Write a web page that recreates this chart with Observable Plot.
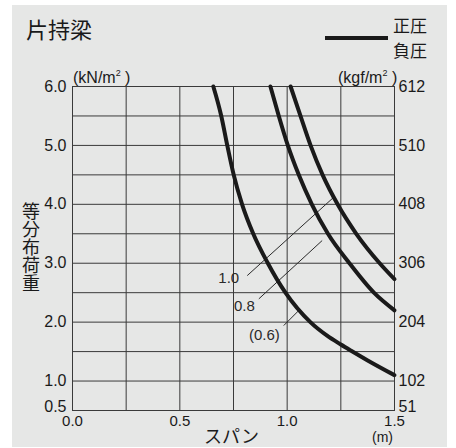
<!DOCTYPE html>
<html>
<head>
<meta charset="utf-8">
<script src="https://cdn.jsdelivr.net/npm/d3@7"></script>
<script src="https://cdn.jsdelivr.net/npm/@observablehq/plot@0.6"></script>
<style>
  body { margin: 0; background: #fff; }
  #wrap { position: relative; width: 456px; height: 448px; overflow: hidden; background: #fff;
          font-family: "Liberation Sans", Arial, "Noto Sans CJK JP", sans-serif; color: #1a1a1a; }
  #panel { position: absolute; left: 12px; top: 5px; width: 435px; height: 442px; background: #e6e7e6; }
  #chart { position: absolute; left: 0; top: 0; }
  .t { position: absolute; white-space: nowrap; line-height: 1; }
  .jp { font-family: "Noto Sans CJK JP", sans-serif; }
</style>
</head>
<body>
<div id="wrap">
  <div id="panel"></div>
  <div id="chart"></div>
  <div class="t jp" style="left:26px; top:17px; font-size:22px;">片持梁</div>
  <div id="legline" style="position:absolute; left:325px; top:36px; width:63px; height:4px; background:#1a1a1a;"></div>
  <div class="t jp" style="left:393px; top:16px; font-size:17px;">正圧</div>
  <div class="t jp" style="left:393px; top:41px; font-size:17px;">負圧</div>
  <div class="t jp" style="left:21px; top:202px; font-size:18px; writing-mode: vertical-rl; line-height:20px;">等分布荷重</div>
  <div class="t" style="left:73px; top:69px; font-size:16px;">(kN/m<span style="font-size:9px; vertical-align:7px;">2</span> )</div>
  <div class="t" style="left:338px; top:69px; font-size:16px;">(kgf/m<span style="font-size:9px; vertical-align:7px;">2</span> )</div>
  <div class="t jp" style="left:204px; top:426px; font-size:18px;">スパン</div>
  <div class="t" style="left:372px; top:430px; font-size:14px;">(m)</div>
</div>
<script>
// ---- data ----
const spanTicks = [0, 0.5, 1.0, 1.5];
const spanGrid = [0, 0.25, 0.5, 0.75, 1.0, 1.25, 1.5];
const loadTicks = [1, 2, 3, 4, 5, 6];
const loadGrid = [0.5, 1, 1.5, 2, 2.5, 3, 3.5, 4, 4.5, 5, 5.5, 6];
const kgfLabels = ["102", "204", "306", "408", "510", "612"];
const lowTick = 0.5;
const lowKgf = "51";

// curve (0.6)
const span06 = [0.656, 0.693, 0.721, 0.751, 0.790, 0.842, 0.910, 0.992, 1.108, 1.186, 1.25, 1.30, 1.375, 1.5];
const load06 = [6.0, 5.5, 5.0, 4.5, 4.0, 3.5, 3.0, 2.5, 2.0, 1.77, 1.62, 1.51, 1.35, 1.10];
// curve 0.8
const span08 = [0.922, 0.961, 1.003, 1.054, 1.115, 1.190, 1.290, 1.404, 1.5];
const load08 = [6.0, 5.5, 5.0, 4.5, 4.0, 3.5, 3.0, 2.5, 2.2];
// curve 1.0
const span10 = [1.016, 1.062, 1.109, 1.165, 1.235, 1.322, 1.431, 1.5];
const load10 = [6.0, 5.5, 5.0, 4.5, 4.0, 3.5, 3.0, 2.73];

// annotations (data coordinates)
const annLabels = ["1.0", "0.8", "(0.6)"];
const annX = [0.728, 0.801, 0.894];
const annY = [2.75, 2.265, 1.772];
const leadX1 = [0.814, 0.868, 0.984];
const leadY1 = [2.79, 2.395, 1.942];
const leadX2 = [1.217, 1.163, 1.054];
const leadY2 = [4.12, 3.385, 2.197];

// ---- build ----
const rows = [];
[["0.6", span06, load06], ["0.8", span08, load08], ["1.0", span10, load10]].forEach(([k, xs, ys]) => {
  xs.forEach((x, i) => rows.push({ curve: k, span: x, load: ys[i] }));
});
const anns = annLabels.map((l, i) => ({ label: l, x: annX[i], y: annY[i], x1: leadX1[i], y1: leadY1[i], x2: leadX2[i], y2: leadY2[i] }));
const kgfMap = new Map(loadTicks.map((d, i) => [d, kgfLabels[i]]));

const gridColor = "#3a3a3a";
const chart = Plot.plot({
  width: 456,
  height: 448,
  marginLeft: 72,
  marginRight: 62,
  marginTop: 86,
  marginBottom: 38,
  style: { background: "transparent", fontFamily: "'Liberation Sans', Arial, sans-serif", color: "#1a1a1a" },
  x: { domain: [0, 1.5] },
  y: { domain: [0.5, 6] },
  marks: [
    Plot.gridX(spanGrid, { stroke: gridColor, strokeOpacity: 1, strokeWidth: 1 }),
    Plot.gridY(loadGrid, { stroke: gridColor, strokeOpacity: 1, strokeWidth: 1 }),
    Plot.frame({ stroke: gridColor, strokeWidth: 1 }),
    Plot.axisX(spanTicks, { tickSize: 0, tickPadding: 5, tickFormat: d3.format(".1f"), label: null, fontSize: 15 }),
    Plot.axisY(loadTicks, { anchor: "left", tickSize: 0, tickPadding: 6, tickFormat: d3.format(".1f"), label: null, fontSize: 16 }),
    Plot.axisY([lowTick], { anchor: "left", tickSize: 0, tickPadding: 6, tickFormat: d3.format(".1f"), label: null, fontSize: 16, dy: -4 }),
    Plot.axisY(loadTicks, { anchor: "right", tickSize: 0, tickPadding: 4, tickFormat: d => kgfMap.get(d), label: null, fontSize: 16 }),
    Plot.axisY([lowTick], { anchor: "right", tickSize: 0, tickPadding: 4, tickFormat: () => lowKgf, label: null, fontSize: 16, dy: -4 }),
    Plot.link(anns, { x1: "x1", y1: "y1", x2: "x2", y2: "y2", stroke: "#2a2a2a", strokeWidth: 1 }),
    Plot.text(anns, { x: "x", y: "y", text: "label", fontSize: 15, fill: "#2a2a2a" }),
    Plot.line(rows, { x: "span", y: "load", z: "curve", stroke: "#1a1a1a", strokeWidth: 4, curve: "monotone-x" })
  ]
});
document.getElementById("chart").appendChild(chart);
</script>
</body>
</html>
